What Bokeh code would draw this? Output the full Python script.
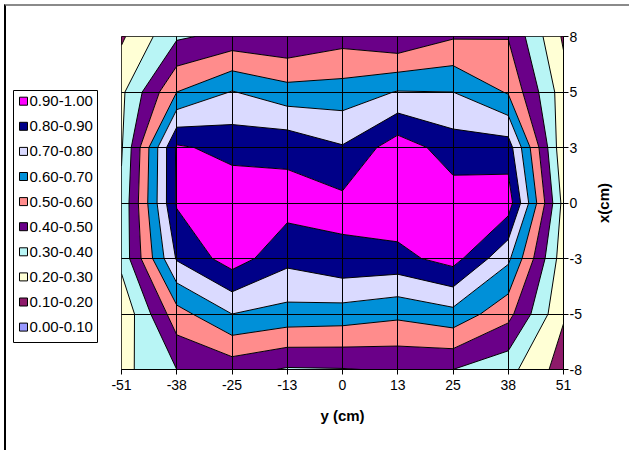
import numpy as np
from bokeh.plotting import figure
from bokeh.layouts import row
from bokeh.models import Range1d, FixedTicker, Label, ColumnDataSource
from bokeh.core.properties import value
from bokeh.embed import file_html
from bokeh.resources import INLINE

# ---- data -------------------------------------------------------------
y_cm_labels = ["-51", "-38", "-25", "-13", "0", "13", "25", "38", "51"]   # horizontal categories
x_cm_labels = ["-8", "-5", "-3", "0", "3", "5", "8"]                      # vertical categories (bottom -> top)

# relative values, one row per x(cm) category (left -> right along y(cm))
row_x_p8 = [0.185, 0.385, 0.43, 0.41, 0.46, 0.41, 0.49, 0.495, 0.185]
row_x_p5 = [0.28, 0.60, 0.705, 0.64, 0.645, 0.705, 0.70, 0.59, 0.245]
row_x_p3 = [0.29, 0.915, 0.867, 0.874, 0.808, 0.956, 0.85, 0.85, 0.22]
row_x_0 = [0.32, 0.91, 0.97, 0.94, 0.926, 0.97, 0.95, 0.954, 0.267]
row_x_m3 = [0.33, 0.81, 0.95, 0.828, 0.88, 0.87, 0.94, 0.72, 0.24]
row_x_m5 = [0.22, 0.56, 0.70, 0.665, 0.655, 0.623, 0.667, 0.532, 0.21]
row_x_m8 = [0.27, 0.40, 0.44, 0.39, 0.395, 0.41, 0.40, 0.333, 0.153]

levels = [0.0, 0.1, 0.2, 0.3, 0.4, 0.5, 0.6, 0.7, 0.8, 0.9, 1.0]
band_labels = ["0.00-0.10", "0.10-0.20", "0.20-0.30", "0.30-0.40", "0.40-0.50",
               "0.50-0.60", "0.60-0.70", "0.70-0.80", "0.80-0.90", "0.90-1.00"]
band_colors = ["#9999FF", "#8E1A6A", "#FFFFD5", "#B8F5F5", "#6A0088",
               "#FF8C8C", "#0090D8", "#DADAFF", "#000088", "#FF00FF"]

FONT = "Liberation Sans"
OFF = 6                       # chart-area border offset (margin + border width)
H = 450 - OFF
FRAME_TOP, FRAME_BOTTOM = 36, 369
RW = 39                       # width of the right strip holding the axis title

# ---- main contour figure --------------------------------------------------
xs = np.arange(len(y_cm_labels), dtype=float)
ys = np.arange(len(x_cm_labels), dtype=float)
Z = np.array([row_x_m8, row_x_m5, row_x_m3, row_x_0, row_x_p3, row_x_p5, row_x_p8])

p = figure(width=482, height=H, output_backend="svg", toolbar_location=None,
           x_range=Range1d(0, len(xs) - 1), y_range=Range1d(0, len(ys) - 1),
           y_axis_location="right", min_border_left=13, min_border_right=27,
           min_border_top=FRAME_TOP - OFF, min_border_bottom=H + OFF - FRAME_BOTTOM)
p.background_fill_color = "white"
p.border_fill_color = "white"
p.outline_line_color = "black"
p.outline_line_width = 1

p.contour(x=xs, y=ys, z=Z, levels=levels, fill_color=band_colors,
          line_color="black", line_width=1)

for g, n in ((p.xgrid, len(xs)), (p.ygrid, len(ys))):
    g.ticker = FixedTicker(ticks=list(range(n)))
    g.grid_line_color = "black"
    g.grid_line_width = 1
    g.grid_line_alpha = 1.0
    g.level = "overlay"

xa = p.xaxis[0]
xa.ticker = FixedTicker(ticks=list(range(len(xs))))
xa.major_label_overrides = {i: s for i, s in enumerate(y_cm_labels)}
xa.axis_label = "y (cm)"
xa.axis_label_text_font = FONT
xa.axis_label_text_font_style = "bold"
xa.axis_label_text_font_size = "15px"
xa.axis_label_standoff = 14
xa.major_label_text_font = FONT
xa.major_label_text_font_size = "14px"
xa.major_label_standoff = 5

ya = p.yaxis[0]
ya.ticker = FixedTicker(ticks=list(range(len(ys))))
ya.major_label_overrides = {i: s for i, s in enumerate(x_cm_labels)}
ya.major_label_text_font = FONT
ya.major_label_text_font_size = "14px"
ya.major_label_standoff = 1

for ax in (xa, ya):
    ax.axis_line_color = "black"
    ax.major_tick_line_color = "black"
    ax.major_tick_in = 0
    ax.major_tick_out = 5
    ax.minor_tick_line_color = None
    ax.major_label_text_color = "black"
    ax.axis_label_text_color = "black"

# ---- legend figure (left); its frame is aligned with the main frame -------------
lf = figure(width=108 - OFF, height=H, output_backend="svg", toolbar_location=None,
            x_range=Range1d(OFF, 108), y_range=Range1d(FRAME_BOTTOM, FRAME_TOP),
            x_axis_location=None, y_axis_location=None, min_border=0)
lf.outline_line_color = None
lf.grid.visible = False
lf.background_fill_color = "white"
lf.border_fill_color = "white"

# legend box
lf.quad(left=13, right=97, top=90, bottom=342, fill_color="white",
        line_color="black", line_width=1)

n_bands = len(band_labels)
rank = (n_bands - 1) - np.arange(n_bands)          # highest band listed first
leg = ColumnDataSource(dict(
    y=100.7 + 25.1 * rank,
    color=band_colors,
    label=band_labels,
))
lf.scatter(x=23, y="y", source=leg, marker="square", size=8,
           fill_color="color", line_color="black", line_width=1)
lf.text(x=29, y="y", text="label", source=leg, text_font=value(FONT),
        text_font_size="15px", text_baseline="middle", text_align="left",
        text_color="black")

# ---- right strip with the vertical axis title ---------------------------------
rf = figure(width=RW, height=H, output_backend="svg", toolbar_location=None,
            x_range=Range1d(0, RW), y_range=Range1d(FRAME_BOTTOM, FRAME_TOP),
            x_axis_location=None, y_axis_location=None, min_border=0)
rf.outline_line_color = None
rf.grid.visible = False
rf.background_fill_color = "white"
rf.border_fill_color = "white"
rf.add_layout(Label(x=13, y=202.5, text="x(cm)", angle=90, angle_units="deg",
                    text_align="center", text_baseline="middle",
                    text_font=FONT, text_font_style="bold", text_font_size="15px",
                    text_color="black"))

layout = row(lf, p, rf, spacing=0)
layout.styles = {"margin-left": "4px", "margin-top": "4px",
                 "border-left": "2px solid #000000",
                 "border-top": "2px solid #8A8A8A"}
open("out.html", "w").write(file_html(layout, INLINE))
